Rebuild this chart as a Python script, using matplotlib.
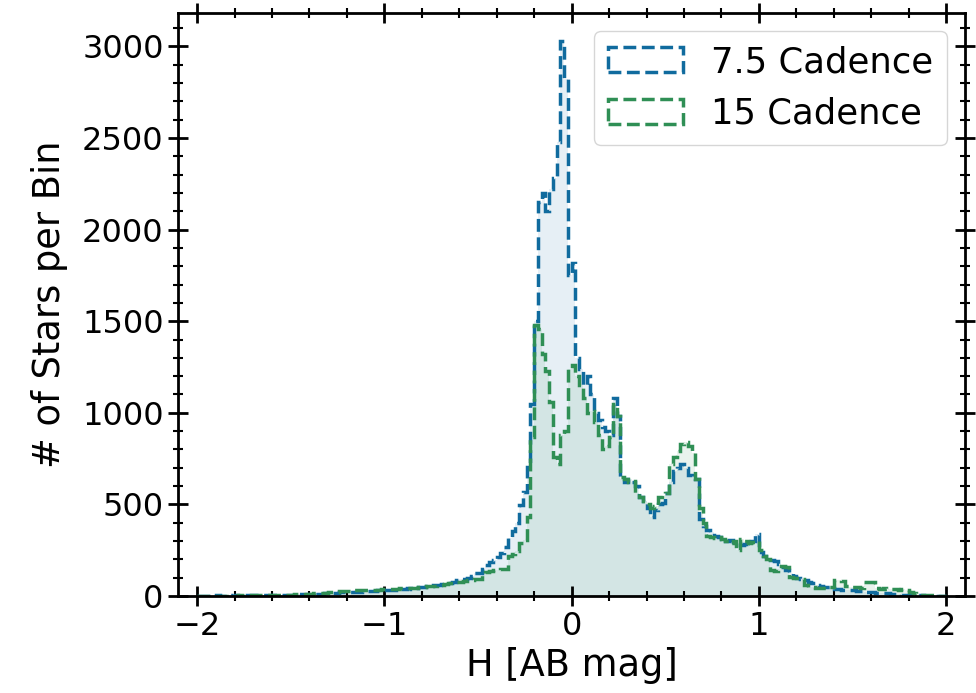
import numpy as np
import matplotlib.pyplot as plt
from matplotlib.ticker import AutoMinorLocator

# bins: 200 bins of 0.02 mag from -2 to 2
bin_edges = np.linspace(-2, 2, 201)

# counts per bin, 7.5 cadence (one row = 0.2 mag)
counts_75 = [
    2, 1, 2, 1, 2, 3, 2, 2, 3, 2,
    3, 2, 3, 4, 3, 3, 4, 5, 4, 5,
    5, 6, 5, 7, 6, 8, 7, 9, 8, 10,
    11, 10, 13, 12, 15, 14, 17, 16, 19, 20,
    22, 21, 24, 23, 26, 25, 28, 27, 30, 29,
    32, 35, 33, 38, 36, 40, 42, 40, 45, 47,
    50, 52, 55, 58, 60, 65, 70, 72, 78, 85,
    90, 92, 100, 110, 126, 128, 150, 171, 185, 198,
    215, 235, 270, 316, 355, 397, 498, 568, 704, 1050,
    1500, 2150, 2200, 2100, 2220, 2280, 2480, 3030, 2820, 1750,
    1820, 1300, 1240, 1150, 1200, 1100, 1000, 960, 920, 900,
    880, 1080, 980, 640, 620, 640, 620, 600, 540, 520,
    480, 430, 470, 500, 510, 560, 620, 680, 700, 720,
    700, 660, 650, 640, 420, 380, 360, 350, 330, 320,
    310, 300, 305, 295, 290, 280, 285, 275, 300, 340,
    240, 220, 200, 195, 190, 175, 160, 140, 125, 110,
    100, 90, 85, 75, 70, 60, 55, 50, 48, 45,
    40, 38, 35, 33, 30, 30, 28, 25, 24, 22,
    20, 18, 17, 15, 14, 12, 11, 10, 8, 7,
    5, 4, 3, 3, 2, 2, 1, 1, 1, 0,
]

# counts per bin, 15 cadence
counts_15 = [
    1, 1, 2, 1, 1, 2, 2, 1, 2, 2,
    2, 3, 2, 3, 3, 4, 3, 4, 4, 5,
    5, 6, 6, 7, 7, 8, 9, 10, 11, 12,
    13, 14, 15, 17, 18, 20, 22, 24, 25, 27,
    28, 29, 30, 31, 30, 32, 33, 34, 35, 36,
    38, 37, 40, 39, 42, 41, 44, 45, 46, 48,
    50, 52, 54, 55, 58, 62, 66, 70, 72, 75,
    78, 80, 85, 88, 90, 92, 120, 130, 135, 140,
    140, 145, 150, 217, 230, 244, 290, 305, 430, 870,
    1480, 1460, 1320, 1230, 1060, 760, 720, 880, 900, 1240,
    1260, 1200, 1150, 1080, 1000, 1010, 950, 880, 800, 820,
    870, 1050, 980, 650, 640, 620, 630, 560, 540, 520,
    500, 480, 490, 540, 550, 560, 720, 760, 790, 830,
    840, 820, 780, 640, 480, 400, 330, 320, 315, 320,
    310, 300, 290, 300, 250, 310, 300, 290, 295, 300,
    250, 220, 200, 140, 135, 150, 165, 160, 105, 100,
    98, 95, 60, 50, 48, 45, 42, 45, 48, 50,
    85, 85, 80, 55, 50, 48, 50, 45, 75, 78,
    75, 45, 40, 42, 40, 38, 40, 35, 36, 35,
    20, 15, 10, 8, 6, 5, 3, 2, 1, 0,
]

labels = ['7.5 Cadence', '15 Cadence']
colors = ['#106b9e', '#2f8f55']

plt.rcParams['font.size'] = 23

fig = plt.figure(figsize=(9.76, 6.93), dpi=100)
ax = fig.add_axes([0.1827, 0.14, 0.806, 0.841])

centers = 0.5 * (bin_edges[:-1] + bin_edges[1:])
for counts, color, label in zip([counts_75, counts_15], colors, labels):
    ax.hist(centers, bins=bin_edges, weights=counts, histtype='stepfilled',
            color=color, alpha=0.1)
    ax.hist(centers, bins=bin_edges, weights=counts, histtype='step',
            color=color, linestyle='--', linewidth=2.5, label=label)

ax.set_xlim(-2.1, 2.1)
ax.set_xlabel('H [AB mag]', fontsize=26.5)
ax.set_ylabel('# of Stars per Bin', fontsize=26.5, labelpad=10)

ax.xaxis.set_minor_locator(AutoMinorLocator(5))
ax.yaxis.set_minor_locator(AutoMinorLocator(5))
ax.tick_params(which='both', direction='inout', top=True, right=True)
ax.tick_params(which='major', length=14, width=2)
ax.tick_params(which='minor', length=7, width=1.5)
for s in ax.spines.values():
    s.set_linewidth(2)

ax.legend(loc='upper right', fontsize=25.5, handlelength=2.1)

fig.savefig('out.png', dpi=100)
